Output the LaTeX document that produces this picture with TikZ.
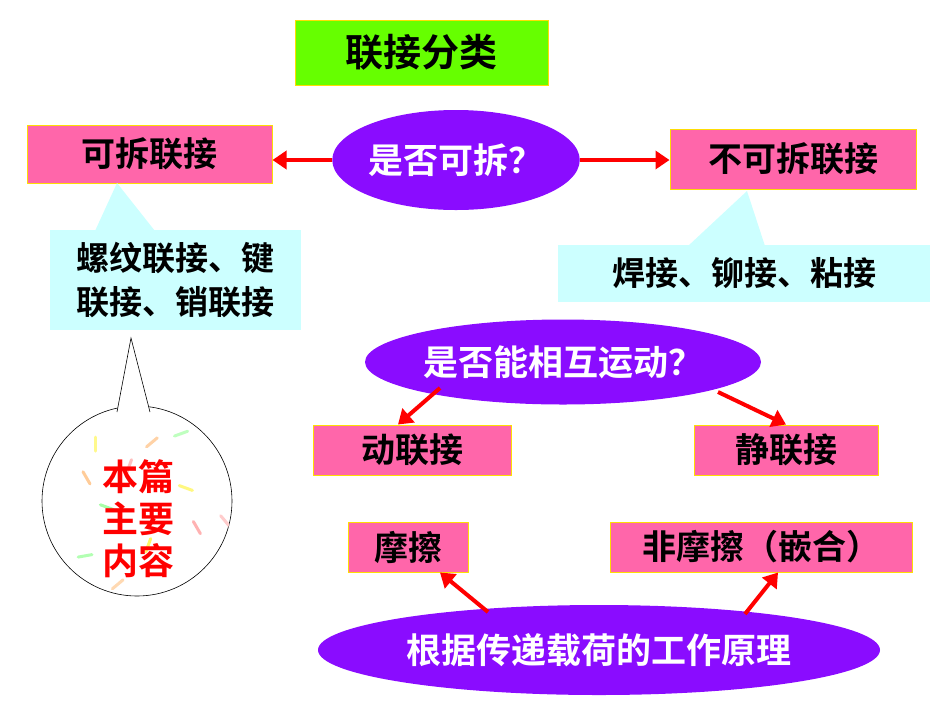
\documentclass[tikz,border=0pt]{standalone}
\usepackage{fontspec}
\setmainfont{Noto Sans CJK SC}[BoldFont={* Bold}]
\usetikzlibrary{shapes.geometric,arrows.meta,calc}
\definecolor{pinkf}{HTML}{FF66AA}
\definecolor{purp}{HTML}{8A0CFF}
\definecolor{cyanf}{HTML}{CCFFFF}
\definecolor{greenf}{HTML}{66FF00}
\tikzset{
 pbox/.style={draw=yellow!80!orange,line width=1pt,fill=pinkf,font=\fontsize{34}{36}\selectfont\bfseries,inner sep=0pt},
 pell/.style={ellipse,fill=purp,text=white,font=\fontsize{35}{36}\selectfont\bfseries,inner sep=0pt},
 rarr/.style={draw=red,line width=4pt,-{Triangle[length=14pt,width=18pt]}},
 call/.style={fill=cyanf,draw=none}
}
\begin{document}
\begin{tikzpicture}[x=1pt,y=-1pt]
\useasboundingbox (0,0) rectangle (950,713);
\node[draw=yellow!80!orange,line width=1pt,fill=greenf,minimum width=253pt,minimum height=65pt,font=\fontsize{38}{40}\selectfont\bfseries] (title) at (421.5,52.5) {联接分类};
\node[pbox,minimum width=245pt,minimum height=58pt] (kc) at (149.5,154) {可拆联接};
\node[pbox,minimum width=246pt,minimum height=60pt] (bkc) at (793,159) {不可拆联接};
\node[pell,minimum width=242pt,minimum height=100pt] (q1) at (456,160) {是否可拆？};
\draw[rarr] (q1.west) -- (kc.east |- q1.west);
\draw[rarr] (q1.east) -- (bkc.west |- q1.east);
% left callout
\fill[cyanf] (95,231) -- (117,183) -- (155,231) -- cycle;
\node[call,minimum width=251pt,minimum height=100pt,align=left,font=\fontsize{33}{44}\selectfont\bfseries,inner sep=0pt] (lc) at (175.5,280) {螺纹联接、键\\联接、销联接};
% right callout
\fill[cyanf] (688,246) -- (747,191) -- (765,246) -- cycle;
\node[call,minimum width=372pt,minimum height=57pt,font=\fontsize{33}{36}\selectfont\bfseries,inner sep=0pt] (rc) at (744,273.5) {焊接、铆接、粘接};
% circle bubble
\coordinate (tip) at (131,338);
\node[circle,draw=black,line width=0.6pt,minimum size=190pt,fill=white,inner sep=0pt] (cir) at (137,501) {};
\begin{scope}
\clip (137,501) circle (95);
\foreach \a/\r/\c in {20/60/red!30,70/40/yellow!60,130/70/green!30,200/50/orange!40,250/30/red!25,300/75/green!25,340/45/yellow!50,100/80/orange!30,160/25/green!35,230/65/yellow!45,10/85/red!20,280/55/orange!35}{
  \draw[\c,line width=3pt,line cap=round] ($(137,501)+(\a:\r)$) -- ++(\a+40:14);
}
\end{scope}
\fill[white] (117,412) -- (tip) -- (150,412) -- cycle;
\draw[line width=0.6pt] (117,412) -- (tip) -- (150,412);
\node[text=red,font=\fontsize{36}{42}\selectfont\bfseries,align=center] (bp) at (138,519) {本篇\\主要\\内容};
% second level
\node[pell,minimum width=370pt,minimum height=85pt] (q2) at (563,362) {是否能相互运动？};
\node[pbox,minimum width=198pt,minimum height=50pt] (dl) at (412,450) {动联接};
\node[pbox,minimum width=184pt,minimum height=50pt] (jl) at (786,450) {静联接};
\coordinate (a1) at (440,388);
\coordinate (a2) at (718,392);
\draw[rarr] (a1) -- (dl.north -| 398,0);
\draw[rarr] (a2) -- (jl.north -| 786,0);
% third level
\node[pbox,minimum width=120pt,minimum height=50pt] (mc) at (408,547) {摩擦};
\node[pbox,minimum width=302pt,minimum height=50pt] (fmc) at (761,547) {非摩擦（嵌合）};
\node[pell,minimum width=562pt,minimum height=90pt] (q3) at (599,650) {根据传递载荷的工作原理};
\coordinate (b1) at (488,612);
\coordinate (b2) at (745,614);
\draw[rarr] (b1) -- (mc.south -| 440,0);
\draw[rarr] (b2) -- (fmc.south -| 778,0);
\end{tikzpicture}
\end{document}
